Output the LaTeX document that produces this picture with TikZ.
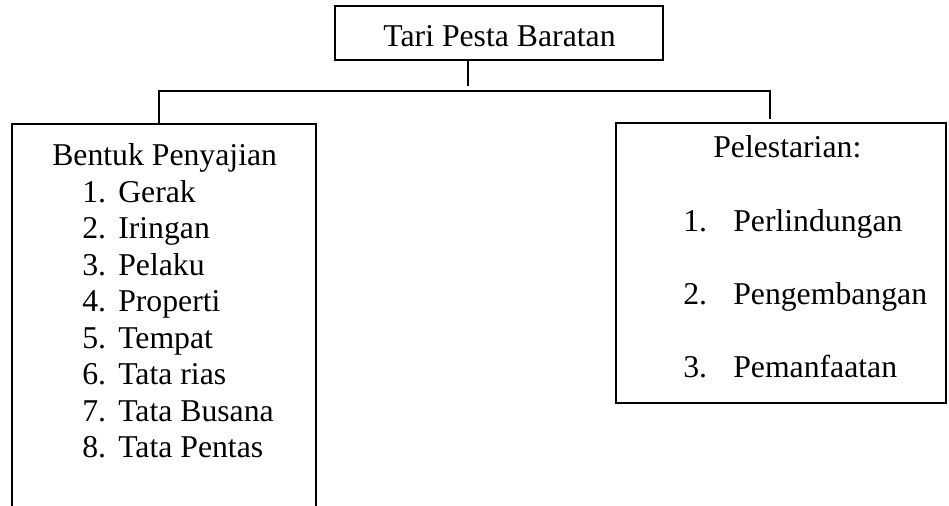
\documentclass[tikz,border=0pt]{standalone}
\usepackage{fontspec}
\setmainfont{Liberation Serif}
\usetikzlibrary{fit}
\begin{document}
\begin{tikzpicture}[x=0.75pt,y=-0.75pt,
  frame/.style={draw, line width=1.5pt, inner sep=0pt},
  conn/.style={draw, line width=1.5pt},
  lbl/.style={inner sep=0pt, font=\fontsize{23.8}{28}\selectfont, anchor=base west},
  clbl/.style={inner sep=0pt, font=\fontsize{23.8}{28}\selectfont, anchor=base}]
\useasboundingbox (0,0) rectangle (949,506);
\clip (0,0) rectangle (949,506);
% boxes
\node[frame, fit={(335,6) (663,60)}] (top) {};
\node[frame, fit={(12,124) (316,560)}] (lbox) {};
\node[frame, fit={(616,123) (946,403)}] (rbox) {};
% texts
\node[clbl] (ttop) at (499.5,46.5) {Tari Pesta Baratan};
\node[lbl] (lhead) at (52,165.5) {Bentuk Penyajian};
\foreach \n/\t/\y in {1/Gerak/202, 2/Iringan/238.5, 3/Pelaku/275, 4/Properti/311.5, 5/Tempat/348, 6/Tata rias/384.5, 7/Tata Busana/421, 8/Tata Pentas/457.5}{
  \node[lbl] (ln\n) at (82,\y) {\n.};
  \node[lbl] (lt\n) at (118,\y) {\t};
}
\node[lbl] (rhead) at (713,158) {Pelestarian:};
\foreach \n/\t/\y in {1/Perlindungan/231, 2/Pengembangan/304.5, 3/Pemanfaatan/377}{
  \node[lbl] (rn\n) at (683,\y) {\n.};
  \node[lbl] (rt\n) at (733,\y) {\t};
}
% connectors
\coordinate (jt) at (468,86);
\coordinate (jl) at (159,91.5);
\coordinate (jr) at (770,91.5);
\coordinate (rd) at (770,119);
\draw[conn] (top.south -| jt) -- (jt);
\draw[conn] (lbox.north -| jl) -- (jl) -- (jr) -- (rd);
\end{tikzpicture}
\end{document}
